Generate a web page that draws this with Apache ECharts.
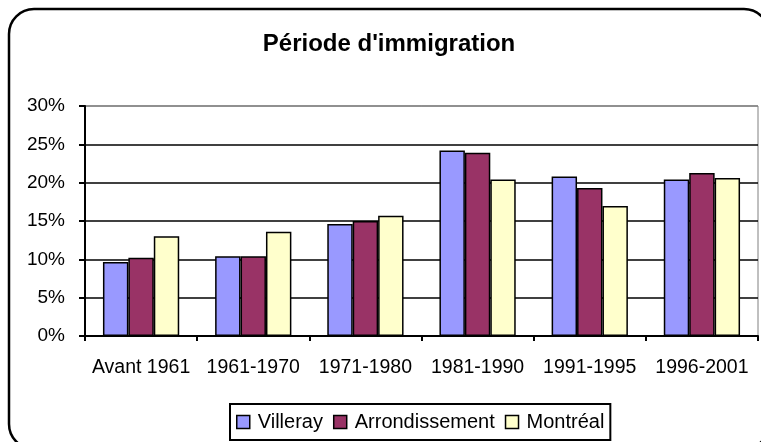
<!DOCTYPE html>
<html>
<head>
<meta charset="utf-8">
<script src="https://cdn.jsdelivr.net/npm/echarts@6/dist/echarts.min.js"></script>
<style>
  html, body { margin: 0; padding: 0; background: #fff; }
  #chart { width: 761px; height: 442px; }
</style>
</head>
<body>
<div id="chart"></div>
<script>
  // data (fractions)
  const categories = ['Avant 1961', '1961-1970', '1971-1980', '1981-1990', '1991-1995', '1996-2001'];
  const villeray = [0.0965, 0.104, 0.146, 0.242, 0.208, 0.204];
  const arrondissement = [0.102, 0.104, 0.150, 0.239, 0.193, 0.2125];
  const montreal = [0.130, 0.136, 0.157, 0.204, 0.1695, 0.206];
  const seriesNames = ['Villeray', 'Arrondissement', 'Montréal'];
  const seriesColors = ['#9999FF', '#993366', '#FFFFCC'];

  const font = '"Liberation Sans", Arial, sans-serif';
  const chart = echarts.init(document.getElementById('chart'));

  const bar = (name, data, color) => ({
    name,
    type: 'bar',
    data,
    barGap: '0%',
    barCategoryGap: '32%',
    itemStyle: { color, borderColor: '#000', borderWidth: 1.5 },
  });

  chart.setOption({
    animation: false,
    backgroundColor: '#fff',
    graphic: [
      {
        type: 'rect',
        shape: { x: 9, y: 9, width: 760, height: 440, r: 25 },
        style: { fill: 'none', stroke: '#000', lineWidth: 2.5 },
        z: 100,
      },
    ],
    title: {
      text: "Période d'immigration",
      left: 384,
      top: 27,
      textAlign: 'center',
      textStyle: { fontFamily: font, fontSize: 24, fontWeight: 'bold', color: '#000' },
    },
    legend: {
      data: seriesNames,
      left: 230,
      top: 404,
      padding: [8, 6, 8, 6],
      itemGap: 10,
      itemWidth: 13,
      itemHeight: 13,
      icon: 'rect',
      borderColor: '#000',
      borderWidth: 2,
      itemStyle: { borderColor: '#000', borderWidth: 1.5 },
      textStyle: { fontFamily: font, fontSize: 20, color: '#000', padding: [0, 0, 0, 3] },
    },
    grid: {
      left: 85,
      right: 3,
      top: 106,
      bottom: 106,
      show: true,
      borderColor: '#808080',
      borderWidth: 1,
      backgroundColor: '#fff',
    },
    xAxis: {
      type: 'category',
      data: categories,
      axisLine: { lineStyle: { color: '#000', width: 2 } },
      axisTick: { show: true, length: 5, lineStyle: { color: '#000', width: 2 } },
      axisLabel: { fontFamily: font, fontSize: 19.5, color: '#000', margin: 22, interval: 0 },
    },
    yAxis: {
      type: 'value',
      min: 0,
      max: 0.3,
      interval: 0.05,
      axisLine: { show: true, lineStyle: { color: '#000', width: 2 } },
      axisTick: { show: true, length: 6, lineStyle: { color: '#000', width: 2 } },
      axisLabel: {
        fontFamily: font,
        fontSize: 19,
        color: '#000',
        margin: 20,
        formatter: (v) => Math.round(v * 100) + '%',
      },
      splitLine: {
        lineStyle: { color: ['#000', '#000', '#000', '#000', '#000', '#000', '#808080'], width: 1.5 },
      },
    },
    series: [
      bar(seriesNames[0], villeray, seriesColors[0]),
      bar(seriesNames[1], arrondissement, seriesColors[1]),
      bar(seriesNames[2], montreal, seriesColors[2]),
    ],
  });
</script>
</body>
</html>
